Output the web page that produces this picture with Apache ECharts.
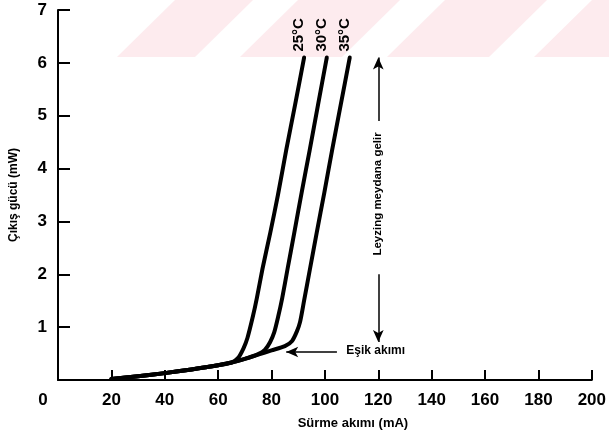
<!DOCTYPE html>
<html>
<head>
<meta charset="utf-8">
<script src="https://cdn.jsdelivr.net/npm/echarts@6/dist/echarts.min.js"></script>
<style>
  html, body { margin: 0; padding: 0; background: #fff; }
  #grafica { width: 609px; height: 436px; }
</style>
</head>
<body>
<div id="grafica"></div>
<script>
// Datos (x = mA, y = mW)
const xTicks = [0, 20, 40, 60, 80, 100, 120, 140, 160, 180, 200];
const yTicks = [0, 1, 2, 3, 4, 5, 6, 7];

const curva25 = [[20, 0.02], [30, 0.07], [40, 0.13], [50, 0.2], [60, 0.28], [65, 0.33], [67.5, 0.42], [69.5, 0.6], [71, 0.8], [73, 1.2], [74.5, 1.55], [76.6, 2.1], [79.5, 2.78], [82.4, 3.5], [85.5, 4.35], [88.8, 5.2], [92.2, 6.1]];
const curva30 = [[20, 0.02], [30, 0.07], [40, 0.13], [50, 0.2], [60, 0.28], [65, 0.33], [70, 0.4], [75, 0.49], [77.5, 0.57], [79.5, 0.72], [81, 0.9], [82.5, 1.2], [84, 1.55], [86, 2.1], [88.5, 2.78], [91.3, 3.55], [94.3, 4.35], [97.4, 5.2], [100.7, 6.1]];
const curva35 = [[20, 0.02], [30, 0.07], [40, 0.13], [50, 0.2], [60, 0.28], [65, 0.33], [70, 0.4], [75, 0.48], [80, 0.56], [85, 0.64], [87.7, 0.74], [89.5, 0.92], [90.7, 1.1], [92.2, 1.5], [94.4, 2.1], [96.9, 2.78], [99.8, 3.55], [102.7, 4.35], [105.9, 5.2], [109.3, 6.1]];
const nombres = ['25°C', '30°C', '35°C'];

// Anotaciones (coordenadas de datos)
const flechaEsik = [[104.5, 0.53], [85.5, 0.53]];
const textoEsik = [108, 0.55];
const flechaArriba = [[120, 4.9], [120, 6.1]];
const flechaAbajo = [[120, 2.0], [120, 0.72]];
const textoLeyzing = [120, 3.52];

const fuente = '"Liberation Sans", Arial, sans-serif';

const chart = echarts.init(document.getElementById('grafica'));

const lineaBase = { color: '#000', width: 4, cap: 'round', join: 'round' };

function serie(nombre, datos) {
  return {
    name: nombre,
    type: 'line',
    data: datos,
    showSymbol: false,
    smooth: 0.25,
    lineStyle: lineaBase,
    itemStyle: { color: '#000' },
    silent: true,
    z: 3
  };
}

function flecha(par) {
  return [{ coord: par[0], symbol: 'none' }, { coord: par[1], symbol: 'arrow' }];
}

const series = [serie(nombres[0], curva25), serie(nombres[1], curva30), serie(nombres[2], curva35)];
series.push({
  type: 'line',
  data: [],
  silent: true,
  markLine: {
    silent: true,
    symbolSize: [8, 12],
    label: { show: false },
    lineStyle: { color: '#000', width: 1.5, type: 'solid' },
    data: [flecha(flechaEsik), flecha(flechaArriba), flecha(flechaAbajo)]
  }
});

const option = {
  animation: false,
  backgroundColor: '#fff',
  grid: { left: 55, right: 17, top: 10, bottom: 56, containLabel: false },
  xAxis: {
    type: 'value',
    min: 0,
    max: 200,
    interval: 20,
    name: 'Sürme akımı (mA)',
    nameLocation: 'middle',
    nameGap: 37,
    nameTextStyle: { fontFamily: fuente, fontWeight: 'bold', fontSize: 13, color: '#000', padding: [0, 0, 0, 56] },
    axisLine: { lineStyle: { color: '#000', width: 2 } },
    axisTick: { inside: true, length: 10, lineStyle: { color: '#000', width: 2 } },
    axisLabel: {
      margin: 12,
      color: '#000',
      fontFamily: fuente,
      fontWeight: 'bold',
      fontSize: 17,
      formatter: v => (v === 0 ? '{o|0}' : String(v)),
      rich: { o: { fontFamily: fuente, fontWeight: 'bold', fontSize: 17, color: '#000', padding: [0, 30, 0, 0] } }
    },
    splitLine: { show: false }
  },
  yAxis: {
    type: 'value',
    min: 0,
    max: 7,
    interval: 1,
    name: 'Çıkış gücü (mW)',
    nameLocation: 'middle',
    nameGap: 38,
    nameTextStyle: { fontFamily: fuente, fontWeight: 'bold', fontSize: 12, color: '#000' },
    axisLine: { show: true, lineStyle: { color: '#000', width: 2 } },
    axisTick: { show: true, inside: true, length: 12, lineStyle: { color: '#000', width: 2 } },
    axisLabel: {
      margin: 11,
      color: '#000',
      fontFamily: fuente,
      fontWeight: 'bold',
      fontSize: 17,
      formatter: v => (v === 0 ? '' : String(v))
    },
    splitLine: { show: false }
  },
  series: series
};

chart.setOption(option);

// Textos de anotacion, ubicados con la escala del grafico
const px = p => chart.convertToPixel({ gridIndex: 0 }, p);
const estiloTexto = (texto, tam) => ({ text: texto, fill: '#000', font: 'bold ' + tam + 'px ' + fuente });

const graficos = [];

// marca de agua rosada de la franja superior
const franjas = [[175, 253], [298, 400], [445, 547], [592, 680]];
franjas.forEach(f => {
  graficos.push({
    type: 'polygon',
    z: -10,
    silent: true,
    shape: { points: [[f[0], 0], [f[1], 0], [f[1] - 58, 57], [f[0] - 58, 57]] },
    style: { fill: '#fdebee' }
  });
});

[curva25, curva30, curva35].forEach((c, i) => {
  const fin = px(c[c.length - 1]);
  graficos.push({
    type: 'text',
    x: fin[0] - 5,
    y: fin[1] - 6,
    rotation: Math.PI / 2,
    style: Object.assign(estiloTexto(nombres[i], 15), { align: 'left', verticalAlign: 'middle' })
  });
});
const pe = px(textoEsik);
graficos.push({ type: 'text', x: pe[0], y: pe[1], style: Object.assign(estiloTexto('Eşik akımı', 12), { align: 'left', verticalAlign: 'middle' }) });
const pl = px(textoLeyzing);
graficos.push({ type: 'text', x: pl[0], y: pl[1], rotation: Math.PI / 2, style: Object.assign(estiloTexto('Leyzing meydana gelir', 11.5), { align: 'center', verticalAlign: 'middle' }) });

chart.setOption({ graphic: graficos });
</script>
</body>
</html>
